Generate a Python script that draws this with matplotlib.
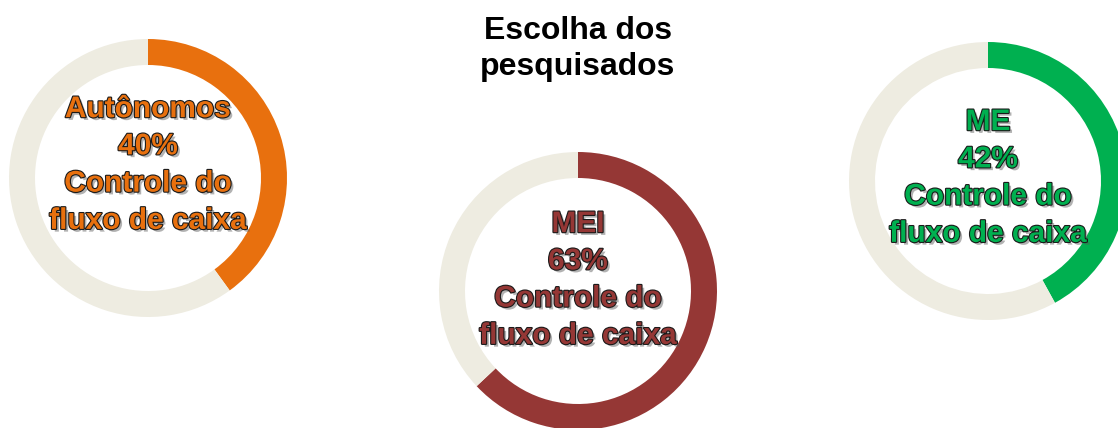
import matplotlib.pyplot as plt
import matplotlib.patheffects as pe

plt.rcParams['font.family'] = ['Liberation Sans', 'DejaVu Sans']

# ----------------------------------------------------
# DATA

groups = ["Autônomos", "MEI", "ME"]
shares = [40, 63, 42]
topic = "Controle do\nfluxo de caixa"
colors = ["#E8700E", "#953735", "#00B050"]
track = "#EEECE1"

# ring centres / radius in pixels (y measured from the top)
centers = [(148, 178), (578, 291), (988, 181)]
label_y = [165, 280, 178]
radius = 139
ring = 26

# ----------------------------------------------------
# DRAW

W, H = 1118, 428
fig = plt.figure(figsize=(W / 100, H / 100), dpi=100)
ax = fig.add_axes([0, 0, 1, 1])

for name, val, col, (cx, cy), ly in zip(groups, shares, colors, centers, label_y):
    ax.pie([val, 100 - val], colors=[col, track], startangle=90, counterclock=False,
           center=(cx, H - cy), radius=radius,
           wedgeprops=dict(width=ring, linewidth=0))
    ax.text(cx, H - ly, f"{name}\n{val}%\n{topic}", ha='center', va='center',
            fontsize=21.5, fontweight='bold', color=col, linespacing=1.42,
            path_effects=[pe.SimplePatchShadow(offset=(2, -2), shadow_rgbFace='#555555', alpha=0.45),
                          pe.Stroke(linewidth=1.6, foreground='#1a1a1a'),
                          pe.Normal()])

ax.text(578, H - 49, "Escolha dos\npesquisados", ha='center', va='center',
        fontsize=23, fontweight='bold', color='black', linespacing=1.3)

ax.set_xlim(0, W)
ax.set_ylim(0, H)
ax.set_aspect('equal')
ax.axis('off')

fig.savefig('out.png', dpi=100)
